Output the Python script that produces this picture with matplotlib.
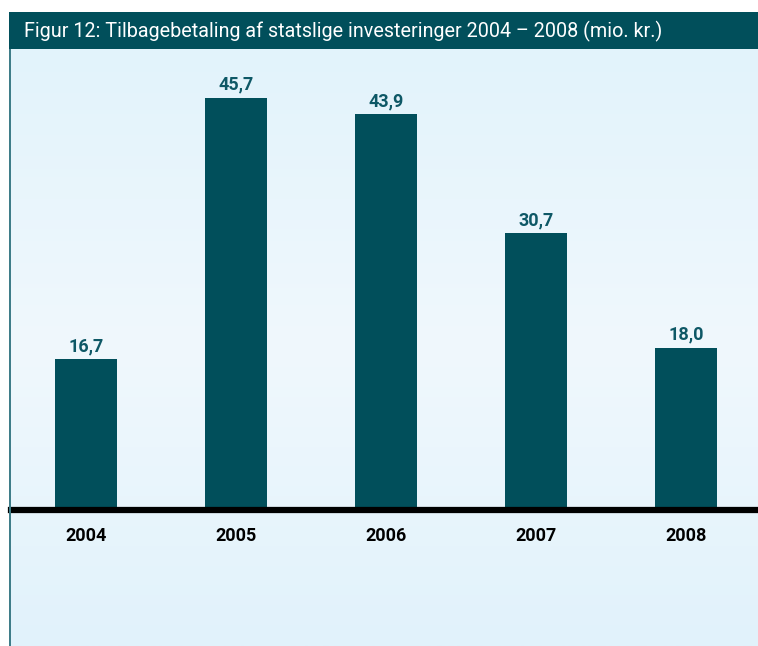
import matplotlib
matplotlib.use("Agg")
import matplotlib.pyplot as plt
import numpy as np
from matplotlib.patches import Rectangle
from matplotlib.colors import LinearSegmentedColormap

years = ["2004", "2005", "2006", "2007", "2008"]
values = [16.7, 45.7, 43.9, 30.7, 18.0]
value_labels = ["16,7", "45,7", "43,9", "30,7", "18,0"]
title = "Figur 12: Tilbagebetaling af statslige investeringer 2004 – 2008 (mio. kr.)"

W, H = 758, 646
teal = "#014f5b"
label_teal = "#0e5866"
font = "Roboto"

fig = plt.figure(figsize=(W / 100, H / 100), dpi=100)

def fx(px):
    return px / W

def fy(py):
    return 1 - py / H

# background gradient panel
bg = fig.add_axes([fx(11), 0, 1 - fx(11), fy(49)])
bg.set_axis_off()
cmap = LinearSegmentedColormap.from_list(
    "bg", [(0.0, "#e2f3fb"), (0.5, "#f0f8fd"), (1.0, "#e1f2fb")])
grad = np.linspace(0, 1, 256).reshape(-1, 1)
bg.imshow(grad, aspect="auto", cmap=cmap, extent=[0, 1, 0, 1], origin="upper")
bg.set_xlim(0, 1)
bg.set_ylim(0, 1)

# left border line
fig.add_artist(Rectangle((fx(9), 0), fx(2), fy(49), transform=fig.transFigure,
                         facecolor="#3f7d89", edgecolor="none"))
# header bar
fig.add_artist(Rectangle((fx(9), fy(49)), 1 - fx(9), fy(12) - fy(49),
                         transform=fig.transFigure, facecolor=teal, edgecolor="none"))
fig.text(fx(24), fy(31), title, color="white", fontsize=14.2, family=font,
         ha="left", va="center")

# main axes
ax = fig.add_axes([fx(11), fy(510), 1 - fx(11), fy(60) - fy(510)])
ax.patch.set_alpha(0)
x = np.arange(len(years))
ax.bar(x, values, width=0.407, color=teal, zorder=2)
ax.set_xlim(-0.5, 4.48)
ax.set_ylim(0, 450 / 9.015)
ax.set_axis_off()
ax.axhline(0, color="black", linewidth=4.5, zorder=3, clip_on=False)

for xi, v, lab, yr in zip(x, values, value_labels, years):
    ax.annotate(lab, (xi, v), xytext=(0, 3), textcoords="offset points",
                ha="center", va="bottom", color=label_teal, fontsize=13,
                fontweight="bold", family=font)
    ax.annotate(yr, (xi, 0), xytext=(0, -19), textcoords="offset points",
                ha="center", va="center", color="black", fontsize=13,
                fontweight="bold", family=font)

fig.savefig("out.png", dpi=100)
